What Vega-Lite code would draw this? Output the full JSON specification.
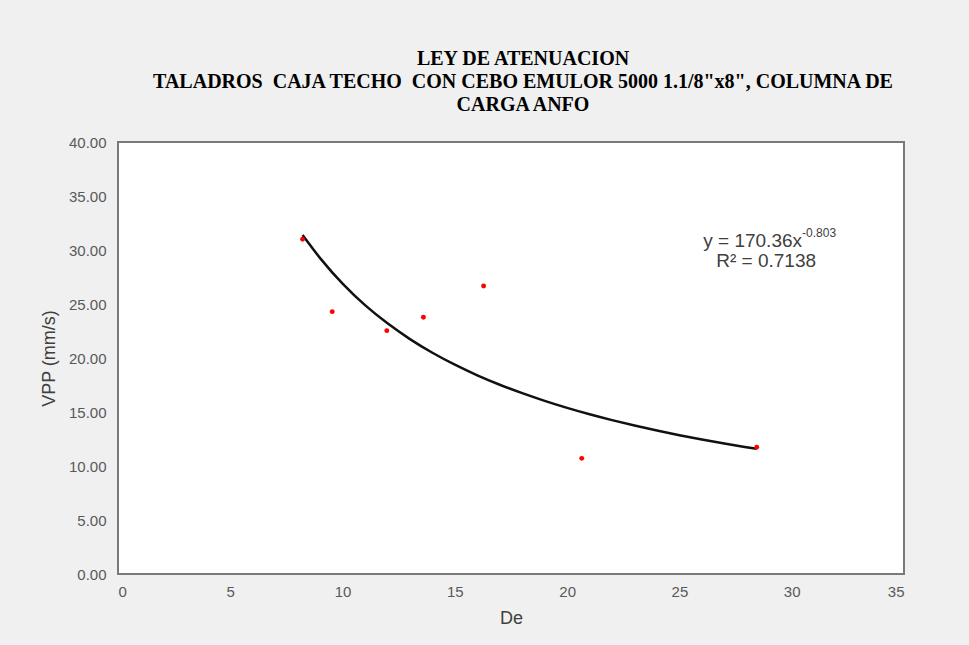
{
  "$schema": "https://vega.github.io/schema/vega-lite/v6.json",
  "width": 786,
  "height": 432,
  "autosize": {"type": "none"},
  "padding": {"left": 118, "top": 142, "right": 65, "bottom": 71},
  "background": "#f0f0f0",
  "config": {
    "view": {"fill": "white", "stroke": "#7a7a7a", "strokeWidth": 2},
    "font": "Liberation Sans"
  },
  "title": {
    "text": ["LEY DE ATENUACION", "TALADROS\u00a0 CAJA TECHO\u00a0 CON CEBO EMULOR 5000 1.1/8\"x8\", COLUMNA DE", "CARGA ANFO"],
    "font": "Liberation Serif",
    "fontSize": 20,
    "fontWeight": "bold",
    "color": "#000000",
    "anchor": "middle",
    "frame": "group",
    "dx": 12,
    "offset": 20,
    "lineHeight": 23
  },
  "datasets": {
    "points": [
      {"De": 8.22, "VPP": 30.99},
      {"De": 9.54, "VPP": 24.29},
      {"De": 11.97, "VPP": 22.53},
      {"De": 13.6, "VPP": 23.77},
      {"De": 16.28, "VPP": 26.67},
      {"De": 20.65, "VPP": 10.71},
      {"De": 28.44, "VPP": 11.73}
    ],
    "curve": [
      {"De": 8.22, "VPP": 31.38},
      {"De": 9, "VPP": 29.18},
      {"De": 10, "VPP": 26.82},
      {"De": 11, "VPP": 24.84},
      {"De": 12, "VPP": 23.17},
      {"De": 13, "VPP": 21.72},
      {"De": 14, "VPP": 20.46},
      {"De": 15, "VPP": 19.36},
      {"De": 16, "VPP": 18.38},
      {"De": 17, "VPP": 17.51},
      {"De": 18, "VPP": 16.73},
      {"De": 19, "VPP": 16.02},
      {"De": 20, "VPP": 15.37},
      {"De": 21, "VPP": 14.78},
      {"De": 22, "VPP": 14.24},
      {"De": 23, "VPP": 13.74},
      {"De": 24, "VPP": 13.28},
      {"De": 25, "VPP": 12.85},
      {"De": 26, "VPP": 12.45},
      {"De": 27, "VPP": 12.08},
      {"De": 28, "VPP": 11.73},
      {"De": 28.44, "VPP": 11.59}
    ],
    "eq": [{"De": 30.46, "VPP": 30.28, "label": "y = 170.36x"}],
    "exp": [{"De": 30.46, "VPP": 31.2, "label": "-0.803"}],
    "r2": [{"De": 28.86, "VPP": 28.43, "label": "R² = 0.7138"}]
  },
  "encoding": {
    "x": {
      "field": "De", "type": "quantitative",
      "scale": {"domain": [0, 35], "nice": false},
      "axis": {
        "values": [0, 5, 10, 15, 20, 25, 30, 35],
        "grid": false, "ticks": false, "domain": false,
        "labelFontSize": 15, "labelColor": "#595959", "labelPadding": 10,
        "title": "De", "titleFontSize": 18, "titleFontWeight": "normal",
        "titleColor": "#404040", "titlePadding": 10
      }
    },
    "y": {
      "field": "VPP", "type": "quantitative",
      "scale": {"domain": [0, 40], "nice": false},
      "axis": {
        "values": [0, 5, 10, 15, 20, 25, 30, 35, 40],
        "format": ".2f",
        "grid": false, "ticks": false, "domain": false,
        "labelFontSize": 15, "labelColor": "#595959", "labelPadding": 12,
        "title": "VPP (mm/s)", "titleFontSize": 18, "titleFontWeight": "normal",
        "titleColor": "#404040", "titlePadding": 10
      }
    }
  },
  "layer": [
    {
      "data": {"name": "curve"},
      "mark": {"type": "line", "color": "#111111", "strokeWidth": 2.5, "interpolate": "basis"}
    },
    {
      "data": {"name": "points"},
      "mark": {"type": "circle", "color": "#ff0000", "size": 24, "opacity": 1}
    },
    {
      "data": {"name": "eq"},
      "mark": {"type": "text", "align": "right", "baseline": "alphabetic", "fontSize": 19, "color": "#404040"},
      "encoding": {"text": {"field": "label"}}
    },
    {
      "data": {"name": "exp"},
      "mark": {"type": "text", "align": "left", "baseline": "alphabetic", "fontSize": 12, "color": "#404040"},
      "encoding": {"text": {"field": "label"}}
    },
    {
      "data": {"name": "r2"},
      "mark": {"type": "text", "align": "center", "baseline": "alphabetic", "fontSize": 19, "color": "#404040"},
      "encoding": {"text": {"field": "label"}}
    }
  ]
}
